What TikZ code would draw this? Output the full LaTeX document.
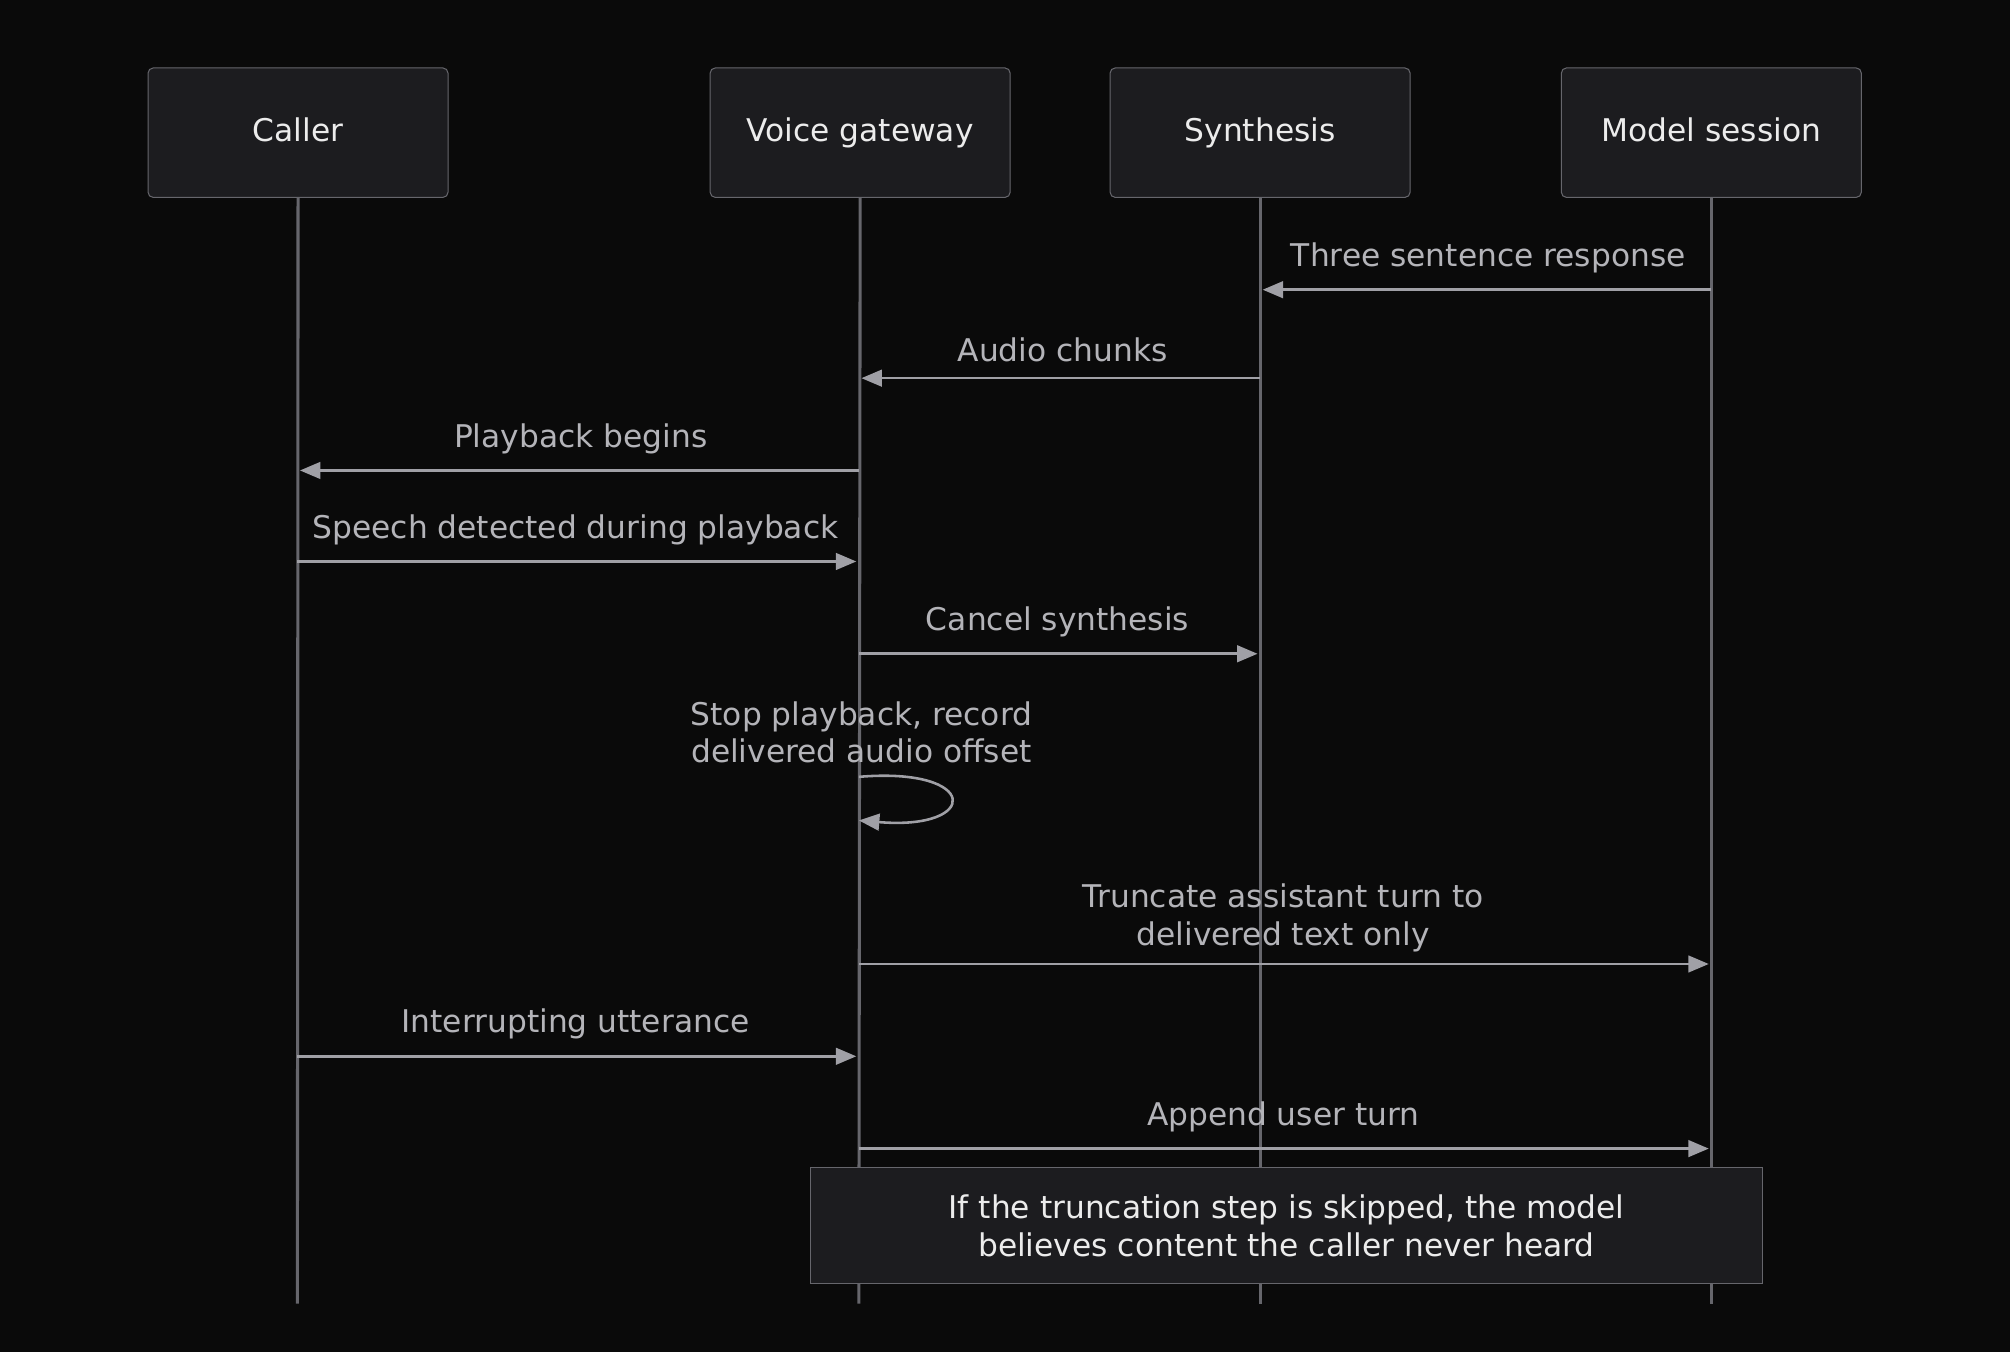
\documentclass[tikz,border=0pt]{standalone}
\usepackage{fontspec}
\setmainfont{DejaVu Sans}
\usetikzlibrary{arrows.meta}
\definecolor{bgc}{HTML}{0A0A0A}
\definecolor{boxc}{HTML}{1C1C1F}
\definecolor{edgec}{HTML}{66666C}
\definecolor{msgc}{HTML}{A0A0A6}
\definecolor{txtc}{HTML}{B4B4B9}
\definecolor{headc}{HTML}{ECECEC}
\tikzset{
  actor/.style={draw=edgec,fill=boxc,rounded corners=2pt,minimum width=117pt,minimum height=50.5pt,text=headc,text height=9pt,text depth=2.5pt,font=\fontsize{12.2}{14}\selectfont},
  life/.style={draw=edgec,line width=1.2pt},
  msg/.style={draw=msgc,line width=1pt,-{Triangle[length=8pt,width=6.5pt]}},
  lbl/.style={text=txtc,font=\fontsize{12.2}{14.5}\selectfont,align=center},
  notebox/.style={draw=edgec,fill=boxc,minimum width=371.5pt,minimum height=45pt,text=headc,align=center,font=\fontsize{12.2}{14.7}\selectfont}
}
\begin{document}
\begin{tikzpicture}[x=0.5pt,y=0.5pt]
    \fill[bgc](0,0)rectangle(1568,-1055);
    \useasboundingbox(0,0)rectangle(1568,-1055);
    % participants
    \node[actor](caller)at(232.5,-103.5){Caller};
    \node[actor](gate)at(671,-103.5){Voice gateway};
    \node[actor](synth)at(983,-103.5){Synthesis};
    \node[actor](model)at(1335,-103.5){Model session};
    \coordinate(callerE)at(232,-1017);
    \coordinate(gateE)at(670,-1017);
    \coordinate(synthE)at(983,-1017);
    \coordinate(modelE)at(1335,-1017);
    \draw[life](caller.south)--(callerE);
    \draw[life](gate.south)--(gateE);
    \draw[life](synth.south)--(synthE);
    \draw[life](model.south)--(modelE);

    % messages
    \draw[msg](1335,-226)--(985,-226);
    \node[lbl]at(1161,-201){Three sentence response};
    \draw[msg](983,-295)--(672,-295);
    \node[lbl]at(829,-273){Audio chunks};
    \draw[msg](670,-367)--(234,-367);
    \node[lbl]at(453,-342){Playback begins};
    \draw[msg](232,-438)--(668,-438);
    \node[lbl]at(449,-413){Speech detected during playback};
    \draw[msg](670,-510)--(981,-510);
    \node[lbl]at(825,-485){Cancel synthesis};
    \node[lbl]at(672,-571){Stop playback, record\\delivered audio offset};
    \draw[msg](670,-606)..controls(765,-598)and(765,-648)..(670,-640);
    \draw[msg](670,-752)--(1333,-752);
    \node[lbl]at(1001,-716){Truncate assistant turn to\\delivered text only};
    \draw[msg](232,-824)--(668,-824);
    \node[lbl]at(449,-799){Interrupting utterance};
    \draw[msg](670,-896)--(1333,-896);
    \node[lbl]at(1001,-871){Append user turn};

    % note
    \node[notebox](note)at(1003.5,-956){If the truncation step is skipped, the model\\believes content the caller never heard};
\end{tikzpicture}
\end{document}
